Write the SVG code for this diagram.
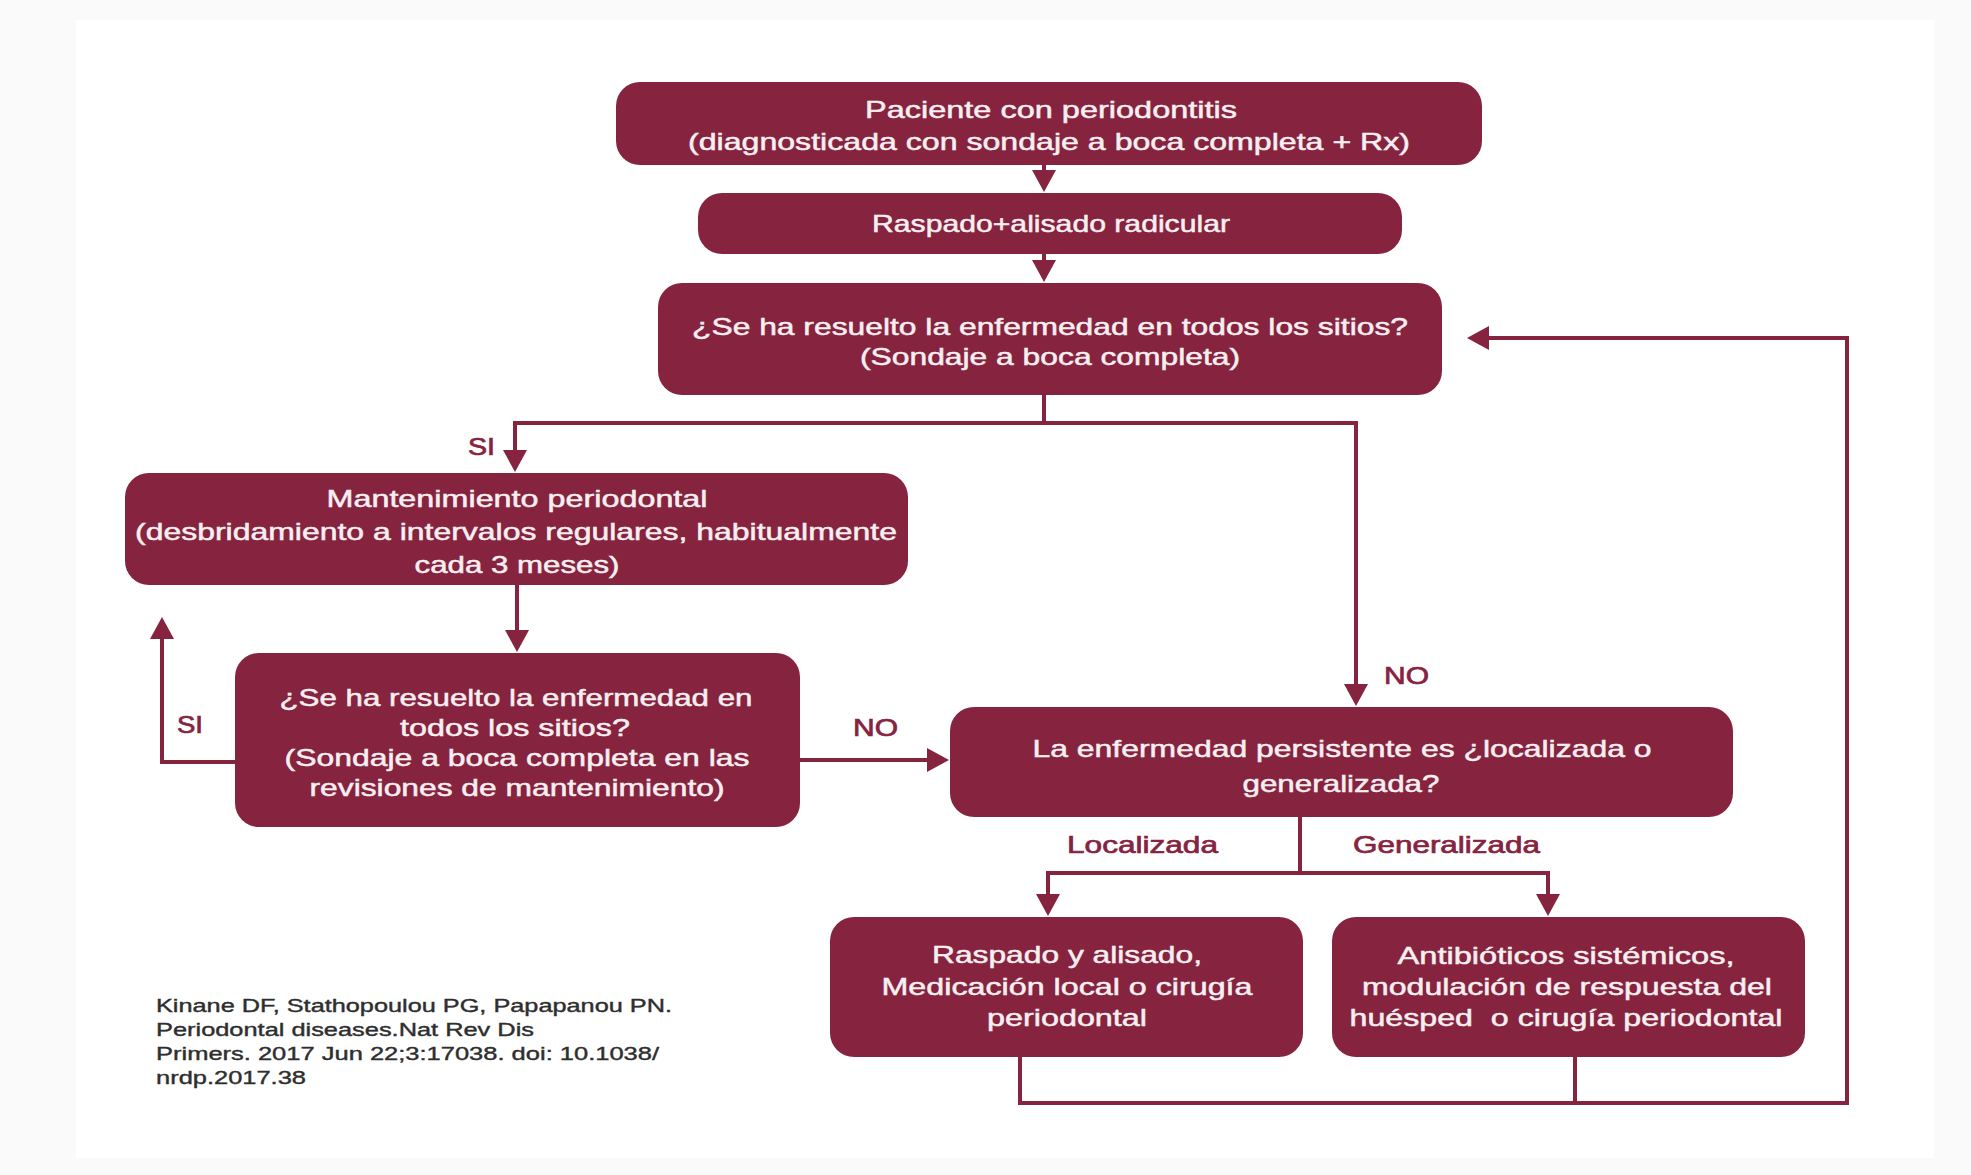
<svg xmlns="http://www.w3.org/2000/svg" width="1971" height="1175" viewBox="0 0 1971 1175">
<style>
.box{fill:#86233F;}
.bt{font-family:"Liberation Sans",Arial,sans-serif;font-size:24px;fill:#F6EFF1;stroke:#F6EFF1;stroke-width:0.5;text-anchor:middle;white-space:pre;}
.lb{font-family:"Liberation Sans",Arial,sans-serif;font-size:24px;fill:#86233F;stroke:#86233F;stroke-width:0.7;text-anchor:start;}
.ct{font-family:"Liberation Sans",Arial,sans-serif;font-size:19px;fill:#2e2e2e;stroke:#2e2e2e;stroke-width:0.4;text-anchor:start;}
.cn{fill:none;stroke:#86233F;stroke-width:4;}
</style>
<defs>
<marker id="ah" markerUnits="userSpaceOnUse" markerWidth="22" markerHeight="24" viewBox="0 0 22 24" refX="18" refY="12" orient="auto">
<path d="M0,0 L22,12 L0,24 z" fill="#86233F"/>
</marker>
</defs>
<rect x="0" y="0" width="1971" height="1175" fill="#fafafb"/>
<rect x="76" y="20" width="1858" height="1138" fill="#ffffff"/>

<g id="connectors">
<path class="cn" d="M1044,165 V188" marker-end="url(#ah)"/>
<path class="cn" d="M1044,254 V278" marker-end="url(#ah)"/>
<path class="cn" d="M1044,395 V423 H515 V468" marker-end="url(#ah)"/>
<path class="cn" d="M1044,423 H1356 V702" marker-end="url(#ah)"/>
<path class="cn" d="M517,585 V648" marker-end="url(#ah)"/>
<path class="cn" d="M235,762 H162 V621" marker-end="url(#ah)"/>
<path class="cn" d="M800,760 H945" marker-end="url(#ah)"/>
<path class="cn" d="M1300,817 V873 H1048 V912" marker-end="url(#ah)"/>
<path class="cn" d="M1300,873 H1548 V912" marker-end="url(#ah)"/>
<path class="cn" d="M1020,1057 V1103 H1847 V338 H1471" marker-end="url(#ah)"/>
<path class="cn" d="M1575,1057 V1103"/>
</g>

<g id="n1">
<rect class="box" x="616" y="82" width="866" height="83" rx="24"/>
<text class="bt" x="1051" y="118" textLength="372" lengthAdjust="spacingAndGlyphs">Paciente con periodontitis</text>
<text class="bt" x="1049" y="150" textLength="722" lengthAdjust="spacingAndGlyphs">(diagnosticada con sondaje a boca completa + Rx)</text>
</g>

<g id="n2">
<rect class="box" x="698" y="193" width="704" height="61" rx="24"/>
<text class="bt" x="1051" y="232" textLength="358" lengthAdjust="spacingAndGlyphs">Raspado+alisado radicular</text>
</g>

<g id="n3">
<rect class="box" x="658" y="283" width="784" height="112" rx="24"/>
<text class="bt" x="1050" y="335" textLength="716" lengthAdjust="spacingAndGlyphs">¿Se ha resuelto la enfermedad en todos los sitios?</text>
<text class="bt" x="1050" y="365" textLength="380" lengthAdjust="spacingAndGlyphs">(Sondaje a boca completa)</text>
</g>

<g id="n4">
<rect class="box" x="125" y="473" width="783" height="112" rx="24"/>
<text class="bt" x="517" y="507" textLength="381" lengthAdjust="spacingAndGlyphs">Mantenimiento periodontal</text>
<text class="bt" x="516" y="540" textLength="762" lengthAdjust="spacingAndGlyphs">(desbridamiento a intervalos regulares, habitualmente</text>
<text class="bt" x="517" y="573" textLength="205" lengthAdjust="spacingAndGlyphs">cada 3 meses)</text>
</g>

<g id="n5">
<rect class="box" x="235" y="653" width="565" height="174" rx="24"/>
<text class="bt" x="516" y="706" textLength="473" lengthAdjust="spacingAndGlyphs">¿Se ha resuelto la enfermedad en</text>
<text class="bt" x="515" y="736" textLength="230" lengthAdjust="spacingAndGlyphs">todos los sitios?</text>
<text class="bt" x="517" y="766" textLength="465" lengthAdjust="spacingAndGlyphs">(Sondaje a boca completa en las</text>
<text class="bt" x="517" y="796" textLength="415" lengthAdjust="spacingAndGlyphs">revisiones de mantenimiento)</text>
</g>

<g id="n6">
<rect class="box" x="950" y="707" width="783" height="110" rx="24"/>
<text class="bt" x="1342" y="757" textLength="619" lengthAdjust="spacingAndGlyphs">La enfermedad persistente es ¿localizada o</text>
<text class="bt" x="1341" y="792" textLength="197" lengthAdjust="spacingAndGlyphs">generalizada?</text>
</g>

<g id="n7">
<rect class="box" x="830" y="917" width="473" height="140" rx="24"/>
<text class="bt" x="1067" y="963" textLength="270" lengthAdjust="spacingAndGlyphs">Raspado y alisado,</text>
<text class="bt" x="1067" y="995" textLength="371" lengthAdjust="spacingAndGlyphs">Medicación local o cirugía</text>
<text class="bt" x="1067" y="1026" textLength="160" lengthAdjust="spacingAndGlyphs">periodontal</text>
</g>

<g id="n8">
<rect class="box" x="1332" y="917" width="473" height="140" rx="24"/>
<text class="bt" x="1566" y="964" textLength="337" lengthAdjust="spacingAndGlyphs">Antibióticos sistémicos,</text>
<text class="bt" x="1567" y="995" textLength="410" lengthAdjust="spacingAndGlyphs">modulación de respuesta del</text>
<text class="bt" x="1566" y="1026" textLength="433" lengthAdjust="spacingAndGlyphs" xml:space="preserve">huésped  o cirugía periodontal</text>
</g>

<g id="labels">
<text class="lb" x="468" y="455" textLength="27" lengthAdjust="spacingAndGlyphs">SI</text>
<text class="lb" x="177" y="733" textLength="26" lengthAdjust="spacingAndGlyphs">SI</text>
<text class="lb" x="853" y="736" textLength="45" lengthAdjust="spacingAndGlyphs">NO</text>
<text class="lb" x="1384" y="684" textLength="45" lengthAdjust="spacingAndGlyphs">NO</text>
<text class="lb" x="1067" y="853" textLength="151" lengthAdjust="spacingAndGlyphs">Localizada</text>
<text class="lb" x="1353" y="853" textLength="187" lengthAdjust="spacingAndGlyphs">Generalizada</text>
</g>

<g id="citation">
<text class="ct" x="156" y="1012" textLength="516" lengthAdjust="spacingAndGlyphs">Kinane DF, Stathopoulou PG, Papapanou PN.</text>
<text class="ct" x="156" y="1036" textLength="378" lengthAdjust="spacingAndGlyphs">Periodontal diseases.Nat Rev Dis</text>
<text class="ct" x="156" y="1060" textLength="503" lengthAdjust="spacingAndGlyphs">Primers. 2017 Jun 22;3:17038. doi: 10.1038/</text>
<text class="ct" x="156" y="1084" textLength="150" lengthAdjust="spacingAndGlyphs">nrdp.2017.38</text>
</g>
</svg>
